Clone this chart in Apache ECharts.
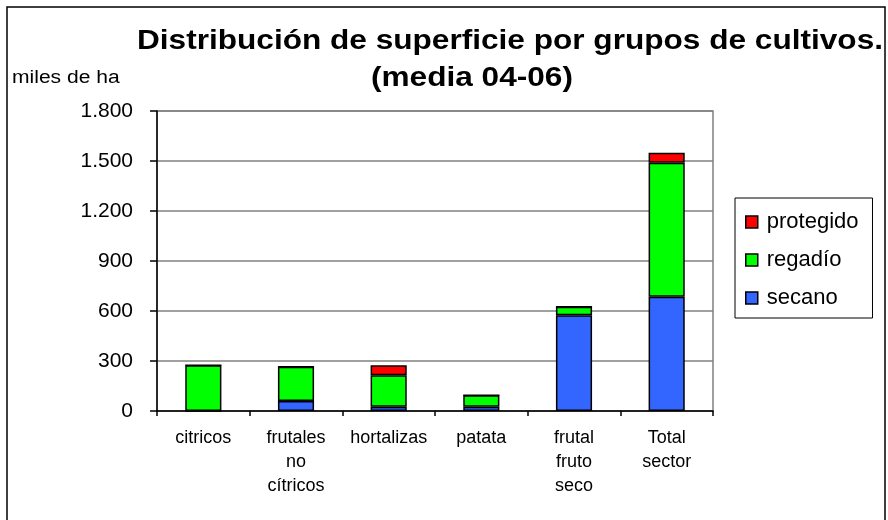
<!DOCTYPE html>
<html>
<head>
<meta charset="utf-8">
<script src="https://cdn.jsdelivr.net/npm/echarts@6/dist/echarts.min.js"></script>
<style>
  html, body { margin: 0; padding: 0; background: #fff; }
  #chart { width: 888px; height: 520px; }
</style>
</head>
<body>
<div id="chart"></div>
<script>
// superficie en miles de ha (media 04-06)
const categories = ['citricos', 'frutales\nno\ncítricos', 'hortalizas', 'patata', 'frutal\nfruto\nseco', 'Total\nsector'];
const secano = [0, 60, 25, 25, 575, 685];
const regadio = [275, 205, 190, 70, 50, 805];
const protegido = [0, 0, 60, 0, 0, 60];
const yTicks = [0, 300, 600, 900, 1200, 1500, 1800];

const font = 'Arial, "Liberation Sans", sans-serif';
const chart = echarts.init(document.getElementById('chart'));

const barStyle = (color) => ({
  color: color,
  borderColor: '#000',
  borderWidth: 1.5
});

// textos del titulo algo estirados en horizontal, como en el original
const wideText = (x, y, text, f) => ({
  type: 'text',
  x: x,
  y: y,
  scaleX: 1.17,
  style: { text: text, font: f, fill: '#000', verticalAlign: 'top' }
});

const option = {
  backgroundColor: '#fff',
  animation: false,
  textStyle: { fontFamily: font, color: '#000' },
  graphic: [
    {
      type: 'rect',
      z: -10,
      shape: { x: 7, y: 7, width: 878, height: 530 },
      style: { fill: '#fff', stroke: '#000', lineWidth: 1.5 }
    },
    wideText(137, 28, 'Distribución de superficie por grupos de cultivos.', 'bold 27px ' + font),
    wideText(371, 65, '(media 04-06)', 'bold 27px ' + font),
    wideText(12, 69, 'miles de ha', '18px ' + font)
  ],
  legend: {
    orient: 'vertical',
    left: 735,
    top: 198,
    data: ['protegido', 'regadío', 'secano'],
    icon: 'rect',
    itemWidth: 12,
    itemHeight: 12,
    itemGap: 16,
    padding: [13, 14, 9, 10],
    borderColor: '#000',
    borderWidth: 1,
    backgroundColor: '#fff',
    itemStyle: { borderColor: '#000', borderWidth: 1.5 },
    textStyle: { fontSize: 22, fontFamily: font, color: '#000', padding: [0, 0, 0, 4] }
  },
  grid: {
    left: 157,
    right: 175,
    top: 111,
    bottom: 109,
    show: true,
    borderColor: '#808080',
    borderWidth: 1.5
  },
  xAxis: {
    type: 'category',
    data: categories,
    axisLine: { lineStyle: { color: '#000', width: 1.5 } },
    axisTick: { show: true, interval: 0, length: 5, lineStyle: { color: '#000', width: 1.5 } },
    axisLabel: { interval: 0, fontSize: 18, lineHeight: 24, color: '#000', margin: 15 }
  },
  yAxis: {
    type: 'value',
    min: yTicks[0],
    max: yTicks[yTicks.length - 1],
    interval: yTicks[1] - yTicks[0],
    axisLine: { show: true, lineStyle: { color: '#000', width: 1.5 } },
    axisTick: { show: true, length: 7, lineStyle: { color: '#000', width: 1.5 } },
    splitLine: { lineStyle: { color: '#808080', width: 1.5 } },
    axisLabel: {
      fontSize: 21,
      color: '#000',
      margin: 24,
      formatter: (v) => v >= 1000 ? Math.floor(v / 1000) + '.' + String(v % 1000).padStart(3, '0') : String(v)
    }
  },
  series: [
    { name: 'secano', type: 'bar', stack: 'sup', barWidth: '39%', data: secano, itemStyle: barStyle('#3366ff') },
    { name: 'regadío', type: 'bar', stack: 'sup', data: regadio, itemStyle: barStyle('#00ff00') },
    { name: 'protegido', type: 'bar', stack: 'sup', data: protegido, itemStyle: barStyle('#ff0000') }
  ]
};

chart.setOption(option);
</script>
</body>
</html>
